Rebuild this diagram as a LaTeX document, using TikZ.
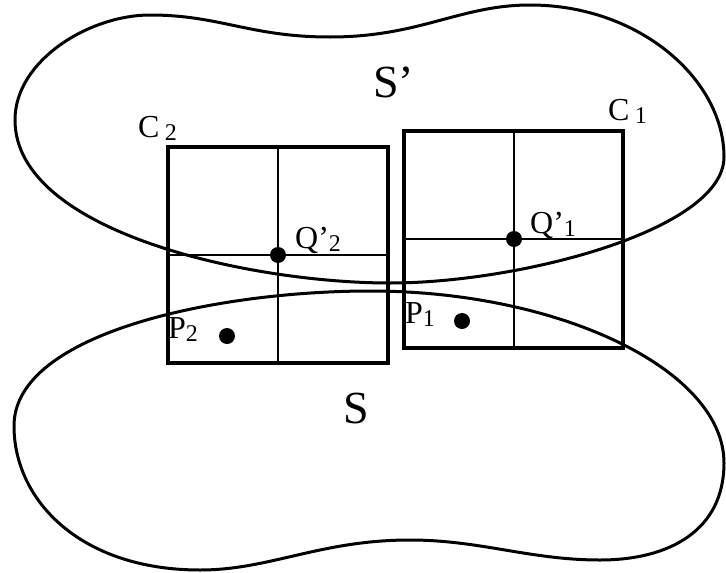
\documentclass[tikz,border=0pt]{standalone}
\usepackage{fontspec}
\setmainfont{Liberation Serif}
\usetikzlibrary{positioning}
\newcommand{\lowidx}[1]{\raisebox{-3pt}{\fontsize{24}{24}\selectfont #1}}
\tikzset{
  blob/.style={black, line width=3pt, line join=round},
  cell/.style={black, line width=3.6pt},
  grid/.style={black, line width=1.6pt},
  pdot/.style={circle, fill=black, inner sep=0pt, minimum size=16pt},
  lbl/.style={anchor=base west, inner sep=0pt, font=\fontsize{32}{36}\selectfont},
  big/.style={anchor=base west, inner sep=0pt, font=\fontsize{46}{50}\selectfont},
}

\begin{document}
\begin{tikzpicture}[x=1pt, y=-1pt]
  \useasboundingbox (0,0) rectangle (726,573);
  % region S'
  \draw[blob] (15,120) .. controls (15,60) and (90,15) .. (150,15)
    .. controls (220,15) and (250,37) .. (330,37)
    .. controls (420,37) and (460,5) .. (530,5)
    .. controls (640,5) and (724,80) .. (724,157)
    .. controls (724,230) and (520,283) .. (390,283)
    .. controls (250,283) and (15,232) .. (15,120) -- cycle;
  % region S
  \draw[blob] (14,426) .. controls (14,332) and (220,291) .. (370,291)
    .. controls (560,291) and (724,370) .. (724,463)
    .. controls (724,530) and (670,560) .. (600,560)
    .. controls (530,560) and (480,540) .. (410,540)
    .. controls (320,540) and (270,570) .. (200,570)
    .. controls (80,570) and (14,500) .. (14,426) -- cycle;
  % cells C2 and C1
  \coordinate (c2a) at (168,147);
  \coordinate (c2b) at (388,363);
  \coordinate (c1a) at (404,131);
  \coordinate (c1b) at (623,348);
  \coordinate (q2) at (278,255);
  \coordinate (q1) at (514,239);
  \draw[grid] (q2 |- c2a) -- (q2 |- c2b);
  \draw[grid] (q2 -| c2a) -- (q2 -| c2b);
  \draw[grid] (q1 |- c1a) -- (q1 |- c1b);
  \draw[grid] (q1 -| c1a) -- (q1 -| c1b);
  \draw[cell] (c2a) rectangle (c2b);
  \draw[cell] (c1a) rectangle (c1b);
  % points
  \node[pdot] (dq2) at (q2) {};
  \node[pdot] (dq1) at (q1) {};
  \node[pdot] (dp2) at (227,336) {};
  \node[pdot] (dp1) at (462,321) {};
  % labels
  \node[lbl] (lc2) at (138,137) {C\,\lowidx{2}};
  \node[lbl] (lc1) at (608,120) {C\,\lowidx{1}};
  \node[lbl] (lq2) at (295,248) {Q'\lowidx{2}};
  \node[lbl] (lq1) at (530,233) {Q'\lowidx{1}};
  \node[lbl] (lp2) at (168,338) {P\lowidx{2}};
  \node[lbl] (lp1) at (405,323) {P\lowidx{1}};
  \node[big] (ls1) at (373,97) {S'};
  \node[big] (ls) at (343,423) {S};
\end{tikzpicture}
\end{document}
